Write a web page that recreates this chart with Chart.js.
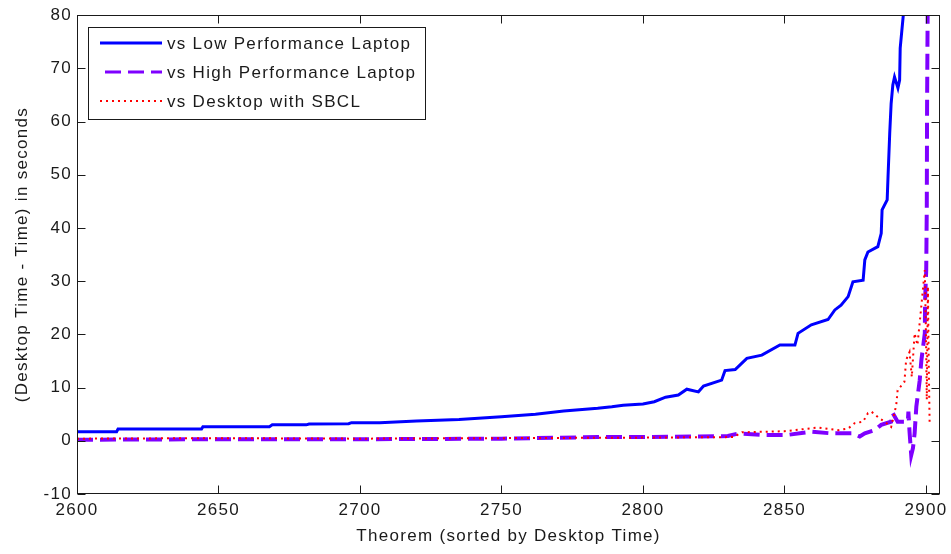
<!DOCTYPE html>
<html>
<head>
<meta charset="utf-8">
<script src="https://cdn.jsdelivr.net/npm/chart.js@4.4.0/dist/chart.umd.min.js"></script>
<style>
  html, body { margin: 0; padding: 0; background: #fff; }
</style>
</head>
<body>
<canvas id="chart" width="951" height="554"></canvas>
<script>
// tick labels
const xTicks = [2600, 2650, 2700, 2750, 2800, 2850, 2900]
const yTicks = [-10, 0, 10, 20, 30, 40, 50, 60, 70, 80]

// vs Low Performance Laptop
const lowX = [2600, 2614, 2614.5, 2644, 2644.5, 2668, 2669, 2681, 2682, 2696, 2697, 2707, 2720, 2735, 2750, 2762, 2772, 2784, 2789, 2793, 2800, 2804, 2808, 2812.5, 2815.5, 2819.6, 2821.4, 2827.8, 2829, 2832.6, 2836.7, 2842, 2848.4, 2853.7, 2854.8, 2859.5, 2865.4, 2867.8, 2870, 2872.5, 2874.2, 2877.8, 2878.4, 2879.5, 2883, 2884.2, 2884.5, 2886.3, 2886.6, 2887.2, 2887.7, 2888.3, 2888.9, 2890.1, 2890.7, 2890.9, 2891.5, 2892, 2892.3]
const lowY = [1.7, 1.7, 2.2, 2.2, 2.65, 2.65, 3.0, 3.0, 3.15, 3.2, 3.4, 3.4, 3.7, 4.0, 4.5, 5.0, 5.6, 6.1, 6.4, 6.7, 6.9, 7.35, 8.2, 8.6, 9.7, 9.2, 10.3, 11.4, 13.2, 13.4, 15.5, 16.1, 18.0, 18.0, 20.2, 21.8, 22.8, 24.6, 25.5, 27.1, 29.9, 30.2, 34.0, 35.5, 36.5, 39, 43.4, 45.3, 49.6, 57.8, 63.4, 66.9, 68.4, 66.3, 67.8, 73.8, 77.2, 80, 90]

// vs High Performance Laptop
const highX = [2600, 2650, 2700, 2750, 2784, 2800, 2820, 2830, 2834, 2843, 2851, 2859.5, 2866.5, 2869, 2874, 2876.6, 2878.4, 2881.9, 2884.2, 2887.7, 2888.3, 2890, 2893.6, 2893.8, 2894.2, 2894.8, 2895.4, 2896, 2896.6, 2897.2, 2897.8, 2898.4, 2899.6, 2899.7, 2900.1, 2900.3, 2900.4, 2900.6, 2900.7]
const highY = [0.2, 0.3, 0.3, 0.4, 0.7, 0.7, 0.8, 0.9, 1.4, 1.1, 1.1, 1.7, 1.4, 1.4, 1.4, 0.8, 1.4, 2.0, 3.0, 3.6, 5.2, 3.6, 3.6, 5.5, 1.7, -2.7, -1.4, 1.4, 6.4, 8.9, 11.4, 15.2, 20.2, 26.5, 32.1, 44, 62.7, 80, 90]

// vs Desktop with SBCL
const sbclX = [2600, 2650, 2700, 2750, 2800, 2832, 2835, 2850, 2862, 2869, 2872.5, 2874.8, 2877.8, 2879.5, 2880.7, 2883.6, 2885.4, 2887.7, 2889.5, 2890, 2892.4, 2893, 2894.2, 2895, 2896, 2897, 2898, 2898.9, 2899.6, 2900, 2900.3, 2900.7, 2901, 2901.3]
const sbclY = [0.4, 0.5, 0.4, 0.5, 0.6, 0.7, 1.6, 1.8, 2.5, 2.0, 2.3, 3.3, 3.6, 5.2, 5.5, 4.2, 3.6, 2.6, 6.7, 9.5, 11.1, 15.2, 16.7, 12, 20.2, 18, 23.3, 28.3, 32.1, 20, 7.7, 29, 14, 3.3]

const FONT = "'Liberation Sans', Arial, Helvetica, sans-serif"
const SPACING = '1.3px'
const INK = '#1a1a1a'

const toPoints = (xs, ys) => xs.map((x, i) => ({x: x, y: ys[i]}))

// box round the axes, ticks pointing inward on all four sides
const boxPlugin = {
  id: 'box',
  beforeDraw(chart) {
    chart.ctx.letterSpacing = SPACING
  },
  afterDraw(chart) {
    const {ctx, chartArea: a, scales} = chart
    const L = Math.round(a.left) + 0.5, R = Math.round(a.right) - 0.5
    const T = Math.round(a.top) + 0.5, B = Math.round(a.bottom) - 0.5
    ctx.save()
    ctx.strokeStyle = INK
    ctx.lineWidth = 1
    ctx.strokeRect(L, T, R - L, B - T)
    ctx.beginPath()
    xTicks.forEach(v => {
      const px = Math.round(scales.x.getPixelForValue(v)) + 0.5
      ctx.moveTo(px, B); ctx.lineTo(px, B - 8)
      ctx.moveTo(px, T); ctx.lineTo(px, T + 8)
    })
    yTicks.forEach(v => {
      const py = Math.round(scales.y.getPixelForValue(v)) + 0.5
      ctx.moveTo(L, py); ctx.lineTo(L + 8, py)
      ctx.moveTo(R, py); ctx.lineTo(R - 8, py)
    })
    ctx.stroke()

    // legend
    const lx = 88.5, ly = 27.5, lw = 337, lh = 92
    ctx.fillStyle = '#fff'
    ctx.fillRect(lx, ly, lw, lh)
    ctx.strokeRect(lx, ly, lw, lh)
    ctx.font = '17px ' + FONT
    ctx.letterSpacing = SPACING
    ctx.textBaseline = 'middle'
    ctx.textAlign = 'left'
    chart.data.datasets.forEach((ds, i) => {
      const yy = 43 + i * 29
      ctx.save()
      ctx.strokeStyle = ds.borderColor
      ctx.lineWidth = ds.legendWidth
      ctx.setLineDash(ds.borderDash || [])
      ctx.beginPath()
      ctx.moveTo(ds.legendStart, yy)
      ctx.lineTo(162, yy)
      ctx.stroke()
      ctx.restore()
      ctx.fillStyle = INK
      ctx.fillText(ds.label, 167, yy + 1)
    })
    ctx.restore()
  }
}

const ctx = document.getElementById('chart').getContext('2d')
const chart = new Chart(ctx, {
  type: 'line',
  data: {
    datasets: [
      {
        label: 'vs Low Performance Laptop',
        data: toPoints(lowX, lowY),
        borderColor: '#0000ff',
        borderWidth: 3,
        legendWidth: 3,
        legendStart: 100,
        order: 3
      },
      {
        label: 'vs High Performance Laptop',
        data: toPoints(highX, highY),
        borderColor: '#7f00ff',
        borderWidth: 4,
        borderDash: [16, 7],
        legendWidth: 3,
        legendStart: 105,
        order: 2
      },
      {
        label: 'vs Desktop with SBCL',
        data: toPoints(sbclX, sbclY),
        borderColor: '#ff0000',
        borderWidth: 2,
        borderDash: [2, 4],
        legendWidth: 2,
        legendStart: 100,
        order: 1
      }
    ]
  },
  options: {
    responsive: false,
    animation: false,
    devicePixelRatio: 1,
    parsing: true,
    elements: {
      point: { radius: 0, hoverRadius: 0 },
      line: { tension: 0, fill: false, borderCapStyle: 'butt' }
    },
    datasets: { line: { clip: 0 } },
    layout: { padding: { top: 15, right: 9, left: 0, bottom: 0 } },
    plugins: {
      legend: { display: false },
      tooltip: { enabled: false }
    },
    scales: {
      x: {
        type: 'linear',
        min: 2600,
        max: 2905,
        afterBuildTicks: s => { s.ticks = xTicks.map(v => ({value: v})) },
        afterFit: s => { s.height = 60 },
        grid: { display: false, drawTicks: false },
        border: { display: false },
        ticks: {
          color: INK,
          padding: 6,
          maxRotation: 0,
          font: { family: FONT, size: 17 },
          callback: v => String(v)
        },
        title: {
          display: true,
          text: 'Theorem (sorted by Desktop Time)',
          color: INK,
          font: { family: FONT, size: 17 },
          padding: { top: 0, bottom: 7 }
        }
      },
      y: {
        type: 'linear',
        min: -10,
        max: 80,
        afterBuildTicks: s => { s.ticks = yTicks.map(v => ({value: v})) },
        afterFit: s => { s.width = 77 },
        grid: { display: false, drawTicks: false },
        border: { display: false },
        ticks: {
          color: INK,
          padding: 5,
          font: { family: FONT, size: 17 },
          callback: v => String(v)
        },
        title: {
          display: true,
          text: '(Desktop Time - Time) in seconds',
          color: INK,
          font: { family: FONT, size: 17 },
          padding: { top: 12, bottom: 0 }
        }
      }
    }
  },
  plugins: [boxPlugin]
})
</script>
</body>
</html>
